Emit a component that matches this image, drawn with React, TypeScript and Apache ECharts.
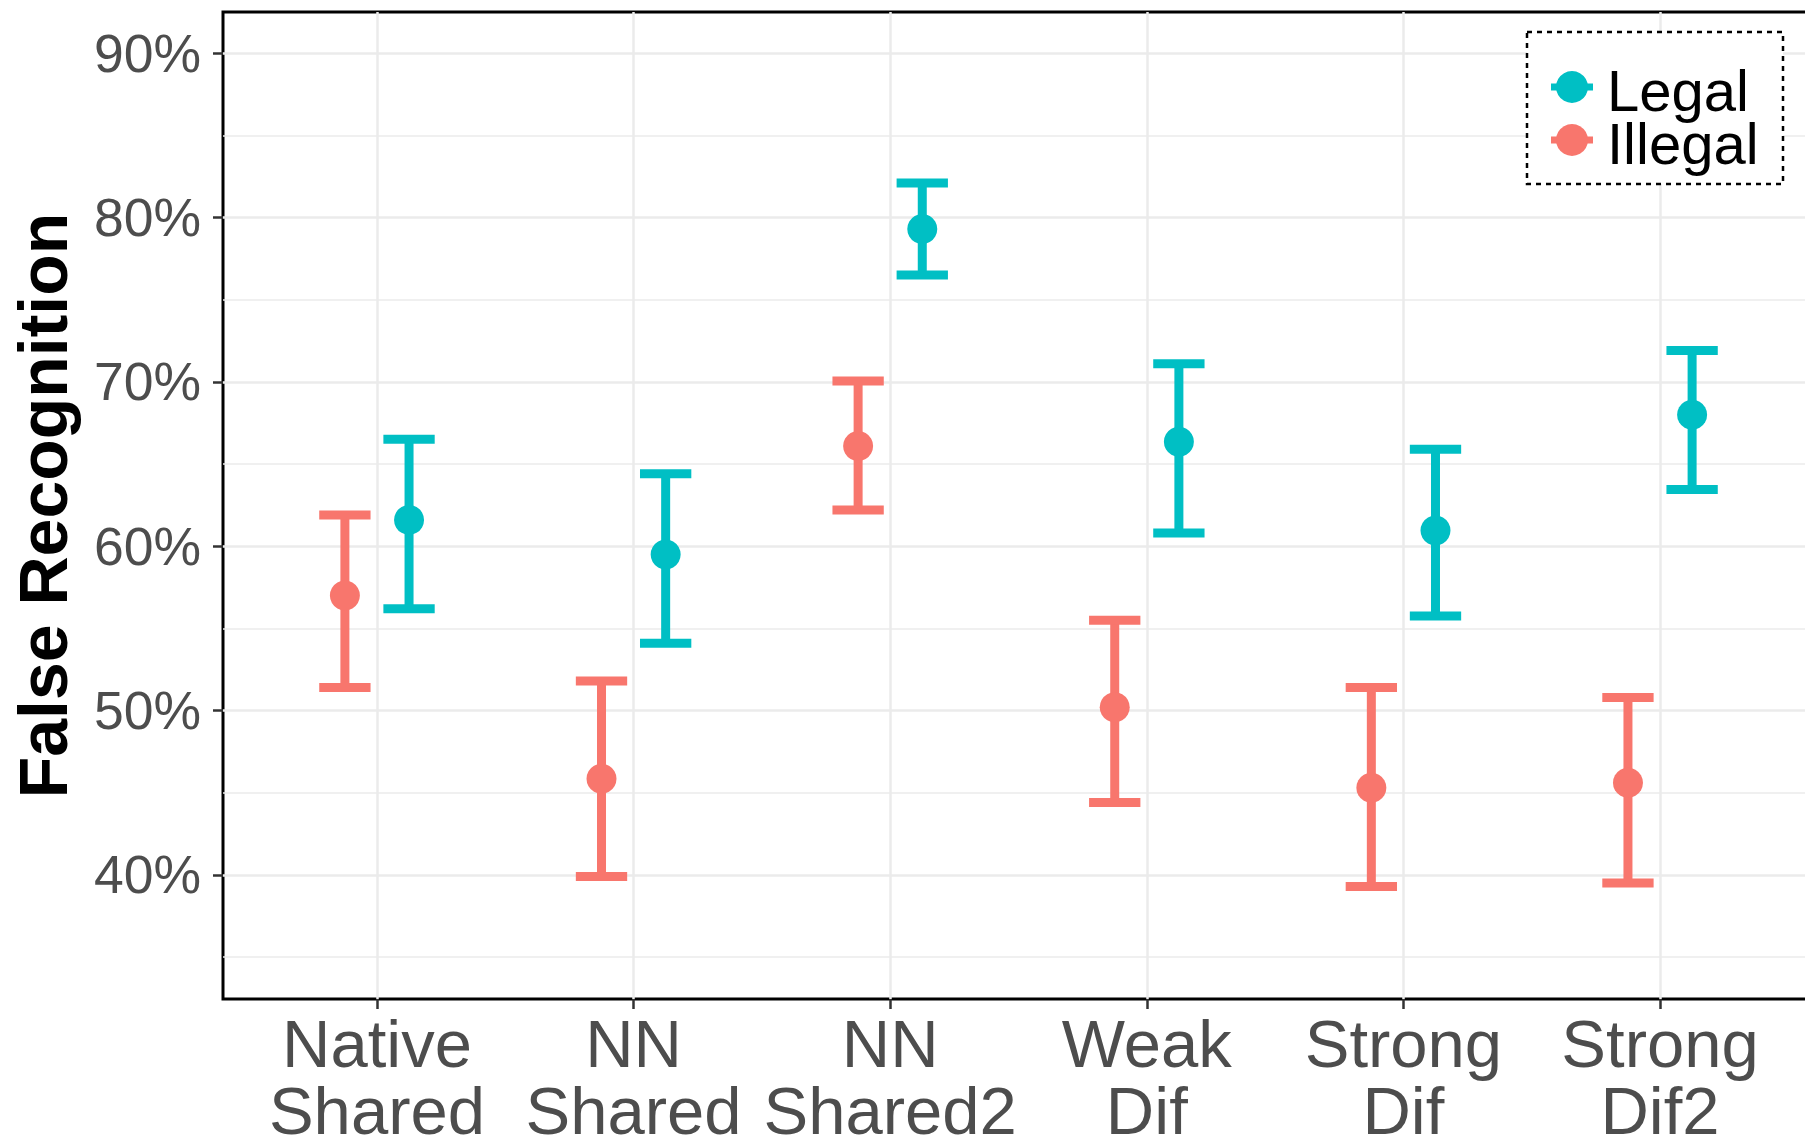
import React, { useEffect, useRef } from 'react';
import * as echarts from 'echarts';

// ---- data ----
const categories = ['Native\nShared', 'NN\nShared', 'NN\nShared2', 'Weak\nDif', 'Strong\nDif', 'Strong\nDif2'];
const categoryPositions = [1, 2, 3, 4, 5, 6];
const yTicks = [40, 50, 60, 70, 80, 90];
const yMinorGrid = [35, 45, 55, 65, 75, 85];
const legendNames = ['Legal', 'Illegal'];

const legalMean = [61.6, 59.5, 79.3, 66.35, 60.95, 68.0];
const legalLow = [56.2, 54.1, 76.5, 60.8, 55.75, 63.45];
const legalHigh = [66.5, 64.4, 82.1, 71.1, 65.9, 71.9];

const illegalMean = [57.0, 45.85, 66.1, 50.2, 45.3, 45.6];
const illegalLow = [51.4, 39.9, 62.2, 44.4, 39.3, 39.5];
const illegalHigh = [61.9, 51.8, 70.05, 55.5, 51.4, 50.8];

// ---- layout / style constants ----
const DODGE = 0.125;
const CAP_WIDTH = 0.2;
const LEGAL_COLOR = '#00BFC4';
const ILLEGAL_COLOR = '#F8766D';
const LEGEND_COLORS = [LEGAL_COLOR, ILLEGAL_COLOR];
const FONT = '"Liberation Sans", Arial, Helvetica, sans-serif';

export default function App() {
  const ref = useRef<HTMLDivElement>(null);

  useEffect(() => {
    const chart = echarts.init(ref.current!, null, { renderer: 'svg' });

    const makeData = (mean: number[], low: number[], high: number[]) =>
      mean.map((m, i) => [categoryPositions[i], m, low[i], high[i]]);

    const renderErrorBar = (offset: number) => (params: any, api: any) => {
      const x = api.value(0) + offset;
      const top = api.coord([x, api.value(3)]);
      const bottom = api.coord([x, api.value(2)]);
      const mid = api.coord([x, api.value(1)]);
      const half = api.size([CAP_WIDTH / 2, 0])[0];
      const color = api.visual('color');
      const ls = { stroke: color, lineWidth: 9, lineCap: 'butt', fill: 'none' };
      return {
        type: 'group',
        children: [
          { type: 'line', shape: { x1: top[0], y1: top[1], x2: bottom[0], y2: bottom[1] }, style: ls },
          { type: 'line', shape: { x1: top[0] - half, y1: top[1], x2: top[0] + half, y2: top[1] }, style: ls },
          { type: 'line', shape: { x1: bottom[0] - half, y1: bottom[1], x2: bottom[0] + half, y2: bottom[1] }, style: ls },
          { type: 'circle', shape: { cx: mid[0], cy: mid[1], r: 15 }, style: { fill: color } },
        ],
      };
    };

    // legend drawn as graphic elements (icon: point with short errorbar stub)
    const legendX = 1572;
    const legendY0 = 87;
    const legendStep = 53;
    const legendFont = 58;
    const legendGraphics: any[] = [
      {
        type: 'rect',
        x: 1527,
        y: 32,
        z: 10,
        shape: { width: 256, height: 152 },
        style: { fill: '#ffffff', stroke: '#000000', lineWidth: 2.5, lineDash: [5, 5] },
      },
    ];
    legendNames.forEach((name, i) => {
      const cy = legendY0 + i * legendStep;
      legendGraphics.push(
        { type: 'rect', x: legendX - 21, y: cy - 3.5, z: 11, shape: { width: 42, height: 7 }, style: { fill: LEGEND_COLORS[i] } },
        { type: 'circle', z: 11, shape: { cx: legendX, cy, r: 16 }, style: { fill: LEGEND_COLORS[i] } }
      );
    });
    legendGraphics.push({
      type: 'text',
      x: 1607,
      y: legendY0 + 3 - legendStep / 2,
      z: 11,
      style: {
        text: legendNames.join('\n'),
        fontSize: legendFont,
        fontFamily: FONT,
        fill: '#000000',
        verticalAlign: 'top',
        align: 'left',
        lineHeight: legendStep,
      },
    });

    const option: any = {
      animation: false,
      backgroundColor: '#ffffff',
      grid: {
        left: 223,
        top: 12,
        width: 1591,
        bottom: 146,
        outerBoundsMode: 'none',
        containLabel: false,
        show: true,
        borderColor: '#000000',
        borderWidth: 3,
        backgroundColor: 'transparent',
      },
      xAxis: {
        type: 'value',
        min: 0.4,
        max: 6.6,
        axisLine: { show: false },
        splitLine: { show: false },
        axisTick: {
          show: true,
          customValues: categoryPositions,
          length: 10,
          lineStyle: { color: '#333333', width: 2.5 },
        },
        axisLabel: {
          customValues: categoryPositions,
          formatter: (v: number) => categories[Math.round(v) - 1] ?? '',
          fontSize: 67,
          lineHeight: 67,
          color: '#4D4D4D',
          margin: 11,
          fontFamily: FONT,
        },
      },
      yAxis: {
        type: 'value',
        min: 32.45,
        max: 92.5,
        name: 'False Recognition',
        nameLocation: 'middle',
        nameRotate: 90,
        nameGap: 146,
        nameTextStyle: { fontSize: 68, fontWeight: 'bold', color: '#000000', fontFamily: FONT },
        axisLine: { show: false },
        splitLine: { show: false },
        axisTick: {
          show: true,
          customValues: yTicks,
          length: 10,
          lineStyle: { color: '#333333', width: 2.5 },
        },
        axisLabel: {
          customValues: yTicks,
          formatter: (v: number) => `${Math.round(v)}%`,
          fontSize: 53.5,
          color: '#4D4D4D',
          margin: 22,
          fontFamily: FONT,
        },
      },
      graphic: legendGraphics,
      series: [
        {
          type: 'line',
          name: 'grid',
          data: [],
          silent: true,
          z: 0,
          markLine: {
            silent: true,
            z: 0,
            symbol: ['none', 'none'],
            label: { show: false },
            lineStyle: { color: '#EBEBEB', width: 2.5, type: 'solid' },
            data: [
              ...yMinorGrid.map((v) => ({ yAxis: v, lineStyle: { color: '#EBEBEB', width: 1.5, type: 'solid' } })),
              ...yTicks.map((v) => ({ yAxis: v })),
              ...categoryPositions.map((v) => ({ xAxis: v })),
            ],
          },
        },
        {
          type: 'custom',
          name: 'Illegal',
          itemStyle: { color: ILLEGAL_COLOR },
          data: makeData(illegalMean, illegalLow, illegalHigh),
          renderItem: renderErrorBar(-DODGE),
          z: 8,
        },
        {
          type: 'custom',
          name: 'Legal',
          itemStyle: { color: LEGAL_COLOR },
          data: makeData(legalMean, legalLow, legalHigh),
          renderItem: renderErrorBar(DODGE),
          z: 8,
        },
      ],
    };

    chart.setOption(option);
    return () => chart.dispose();
  }, []);

  return (
    <div
      ref={ref}
      style={{ position: 'fixed', left: 0, top: 0, width: 1805, height: 1145, background: '#fff' }}
    />
  );
}
